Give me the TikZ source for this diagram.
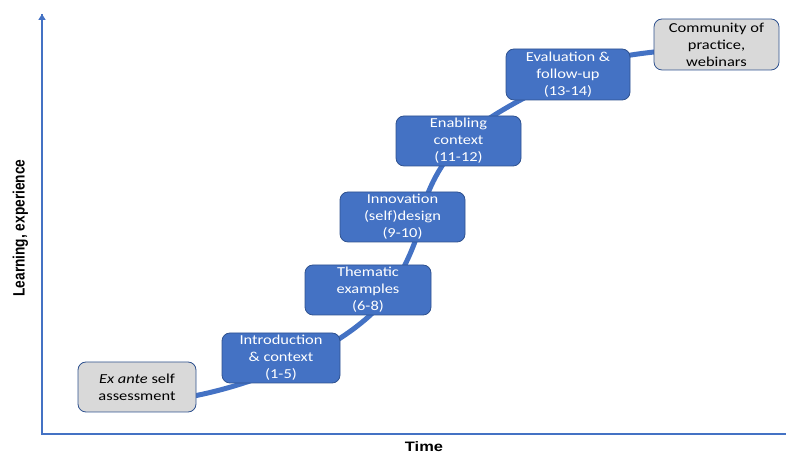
\documentclass[tikz,border=0pt]{standalone}
\usepackage{fontspec}
\setmainfont{Carlito}[FakeStretch=1.2]
\newfontfamily\axisfont{Liberation Sans}
\usetikzlibrary{arrows.meta,backgrounds}

\definecolor{stepblue}{HTML}{4472C4}
\definecolor{stepedge}{HTML}{2F528F}
\definecolor{stepgray}{HTML}{D9D9D9}

\tikzset{
  phase/.style={draw=stepedge, line width=0.8pt, fill=stepblue, text=white,
    rounded corners=8pt, align=center, inner sep=2pt,
    font=\fontsize{13.7}{17}\selectfont},
  milestone/.style={phase, fill=stepgray, text=black},
  curve/.style={stepblue, line width=5pt, looseness=0.8},
  axis/.style={stepblue, line width=1.8pt},
  axislabel/.style={inner sep=0pt, font=\axisfont\bfseries\fontsize{13.7}{16}\selectfont}
}

\begin{document}
\begin{tikzpicture}[x=1pt,y=1pt]
    \useasboundingbox (0,0) rectangle (786,454);

    % Axes
    \draw[axis] (786,20) -- (42,20) -- (42,440);
    \draw[axis, -{Triangle[width=7pt,length=6pt]}] (42,420) -- (42,440);
    \node[axislabel, rotate=90] (ylab) at (20.5,226) {\scalebox{1}[1.2]{Learning, experience}};
    \node[axislabel, anchor=north] (xlab) at (424,12.5) {\scalebox{1.2}[1]{Time}};

    % Steps
    \node[milestone, minimum width=118pt, minimum height=50pt] (exante) at (137,67)
        {\textit{Ex ante} self\\assessment};
    \node[phase, minimum width=118pt, minimum height=50pt] (intro) at (281,96)
        {Introduction\\\& context\\(1-5)};
    \node[phase, minimum width=126pt, minimum height=50pt] (thematic) at (368,164)
        {Thematic\\examples\\(6-8)};
    \node[phase, minimum width=125pt, minimum height=50pt] (innovation) at (402.5,237)
        {Innovation\\(self)design\\(9-10)};
    \node[phase, minimum width=125pt, minimum height=50pt] (enabling) at (458.5,313)
        {Enabling\\context\\(11-12)};
    \node[phase, minimum width=124pt, minimum height=51pt] (evaluation) at (568,379.5)
        {Evaluation \&\\follow-up\\(13-14)};
    \node[milestone, minimum width=125pt, minimum height=51pt] (community) at (716.5,409.5)
        {Community of\\practice,\\webinars};

    % Learning curve behind the steps
    \begin{scope}[on background layer]
    \draw[curve] ([yshift=-15pt]exante.center) to[out=0,in=205] ([xshift=14pt,yshift=-5pt]intro.center)
        to[out=25,in=237] ([xshift=24pt]thematic.center)
        to[out=62,in=262] ([xshift=19pt]innovation.center)
        to[out=82,in=226] ([xshift=3pt]enabling.center)
        to[out=46,in=210] (evaluation.center)
        to[out=30,in=190] (community.center);
    \end{scope}
\end{tikzpicture}
\end{document}
